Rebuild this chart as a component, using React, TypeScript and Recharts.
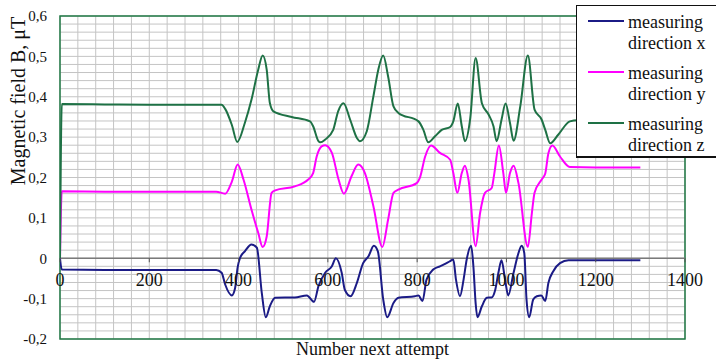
import React from "react";
import {
  LineChart,
  Line,
  XAxis,
  YAxis,
  CartesianGrid,
  ReferenceLine,
  ReferenceArea,
  Legend,
  Label,
} from "recharts";

// ---------------- data ----------------
const attemptsX = [0, 4, 100, 200, 300, 350, 362, 370, 385, 392, 398, 403, 414, 429, 441, 452, 461, 470, 482, 526, 553, 569, 579, 594, 609, 618, 631, 638, 651, 665, 679, 691, 703, 712, 724, 733, 747, 758, 795, 803, 812, 821, 836, 851, 859, 874, 881, 887, 896, 904, 911, 921, 926, 931, 935, 945, 956, 967, 975, 982, 989, 997, 1004, 1016, 1027, 1034, 1040, 1045, 1051, 1060, 1068, 1078, 1087, 1094, 1105, 1120, 1139, 1200, 1300];
const fieldX = [0, -0.028, -0.029, -0.029, -0.029, -0.029, -0.036, -0.065, -0.092, -0.075, -0.022, 0.0, 0.017, 0.034, 0.026, -0.086, -0.146, -0.119, -0.098, -0.097, -0.092, -0.108, -0.069, -0.036, -0.02, 0.0, -0.036, -0.078, -0.094, -0.061, -0.012, 0.005, 0.031, 0.017, -0.102, -0.146, -0.111, -0.098, -0.094, -0.092, -0.106, -0.053, -0.028, -0.02, -0.016, -0.007, -0.003, -0.053, -0.094, -0.053, -0.003, 0.031, -0.02, -0.111, -0.146, -0.119, -0.098, -0.097, -0.078, -0.036, -0.005, -0.053, -0.092, -0.036, 0.013, 0.031, 0.013, -0.102, -0.146, -0.102, -0.094, -0.092, -0.106, -0.061, -0.032, -0.012, -0.005, -0.005, -0.005];

const attemptsY = [0, 4, 100, 200, 300, 350, 370, 385, 398, 411, 429, 444, 454, 463, 474, 482, 526, 556, 567, 575, 586, 594, 609, 624, 636, 653, 668, 683, 702, 722, 735, 747, 758, 799, 806, 818, 831, 851, 874, 881, 890, 900, 907, 915, 931, 941, 952, 967, 973, 983, 993, 999, 1008, 1016, 1027, 1048, 1057, 1063, 1079, 1087, 1094, 1103, 1120, 1142, 1200, 1300];
const fieldY = [0, 0.166, 0.165, 0.165, 0.165, 0.165, 0.16, 0.19, 0.232, 0.195, 0.12, 0.063, 0.028, 0.054, 0.162, 0.168, 0.178, 0.195, 0.211, 0.252, 0.277, 0.28, 0.261, 0.195, 0.16, 0.203, 0.232, 0.211, 0.129, 0.028, 0.096, 0.162, 0.17, 0.186, 0.199, 0.252, 0.279, 0.261, 0.244, 0.211, 0.162, 0.211, 0.229, 0.195, 0.03, 0.112, 0.162, 0.174, 0.211, 0.279, 0.211, 0.162, 0.211, 0.229, 0.186, 0.028, 0.112, 0.162, 0.195, 0.21, 0.26, 0.279, 0.252, 0.226, 0.225, 0.225];

const attemptsZ = [0, 4, 100, 200, 300, 362, 370, 385, 397, 414, 429, 444, 454, 463, 470, 478, 519, 560, 567, 579, 583, 594, 612, 623, 635, 650, 665, 672, 687, 702, 713, 724, 735, 747, 758, 803, 814, 825, 840, 855, 874, 881, 891, 900, 907, 919, 931, 945, 960, 971, 978, 989, 998, 1008, 1016, 1031, 1048, 1063, 1079, 1087, 1098, 1116, 1142, 1160, 1200, 1300];
const fieldZ = [0, 0.382, 0.381, 0.38, 0.38, 0.38, 0.37, 0.33, 0.288, 0.335, 0.393, 0.467, 0.502, 0.467, 0.385, 0.364, 0.35, 0.339, 0.327, 0.29, 0.287, 0.294, 0.318, 0.364, 0.384, 0.343, 0.298, 0.29, 0.314, 0.401, 0.467, 0.502, 0.45, 0.376, 0.36, 0.339, 0.318, 0.287, 0.302, 0.318, 0.325, 0.339, 0.383, 0.327, 0.29, 0.347, 0.496, 0.384, 0.356, 0.327, 0.29, 0.343, 0.383, 0.335, 0.291, 0.376, 0.502, 0.368, 0.343, 0.318, 0.285, 0.306, 0.339, 0.342, 0.342, 0.342];

const seriesNames = ["measuring direction x", "measuring direction y", "measuring direction z"];
const xTicks = [0, 200, 400, 600, 800, 1000, 1200, 1400];
const yTicks = [-0.2, -0.1, 0, 0.1, 0.2, 0.3, 0.4, 0.5, 0.6];
const xGridStep = 40;
const yGridStep = 0.02;
const xTitle = "Number next attempt";
const yTitle = "Magnetic field B, \u03BCT";

// ---------------- layout / style ----------------
const W = 716;
const H = 360;
const X_MIN = 0;
const X_MAX = 1400;
const Y_MIN = -0.2;
const Y_MAX = 0.6;
const X_AXIS_H = 21;
const MARGIN = { top: 16, right: 31, bottom: 0, left: 0 };
const Y_AXIS_W = 60;
const PLOT_TOP = MARGIN.top;
const PLOT_H = H - MARGIN.top - MARGIN.bottom - X_AXIS_H;
const ZERO_Y = PLOT_TOP + (PLOT_H * Y_MAX) / (Y_MAX - Y_MIN);
const SERIF = '"Liberation Serif", "Times New Roman", serif';
const COLORS = ["#1b1b86", "#ff00ff", "#1e7145"];
const BORDER_GREEN = "#217a45";

const toRows = (xs: number[], vs: number[]) => xs.map((t, i) => ({ t, v: vs[i] }));
const dataX = toRows(attemptsX, fieldX);
const dataY = toRows(attemptsY, fieldY);
const dataZ = toRows(attemptsZ, fieldZ);

const gridXValues: number[] = [];
for (let v = X_MIN; v <= X_MAX + 1e-9; v += xGridStep) gridXValues.push(v);
const gridYValues: number[] = [];
for (let k = 0; k <= Math.round((Y_MAX - Y_MIN) / yGridStep); k++)
  gridYValues.push(Y_MIN + k * yGridStep);

const applyScale = (axis: any, v: number, fallback: number) => {
  const s = axis && axis.scale;
  if (typeof s === "function") return s(v);
  if (s && typeof s.map === "function") return s.map(v);
  return fallback;
};

const fmtY = (v: number) => (Math.abs(v) < 1e-9 ? "0" : v.toFixed(1).replace(".", ","));

function XTick(props: any) {
  const { x, payload } = props;
  return (
    <g>
      <line x1={x} x2={x} y1={ZERO_Y} y2={ZERO_Y + 4} stroke="#555" strokeWidth={1} />
      <text
        x={x}
        y={ZERO_Y + 28}
        textAnchor="middle"
        fontSize={18}
        fontFamily={SERIF}
        fill="#111"
      >
        {payload.value}
      </text>
    </g>
  );
}

function LegendBox(props: any) {
  const payload = props.payload || [];
  return (
    <div
      style={{
        position: "relative",
        width: 140,
        height: 153,
        boxSizing: "border-box",
        background: "#fff",
        borderLeft: "1px solid #111",
        borderTop: "1px solid #111",
        borderBottom: "2px solid #111",
        fontFamily: SERIF,
        color: "#111",
      }}
    >
      {payload.map((p: any, i: number) => {
        const words = String(p.value).split(" ");
        return (
          <div key={i}>
            <div
              style={{
                position: "absolute",
                left: 11,
                top: 14 + i * 51,
                width: 36,
                height: 2,
                background: p.color,
              }}
            />
            <div
              style={{
                position: "absolute",
                left: 51,
                top: 5.5 + i * 51,
                fontSize: 18,
                lineHeight: "21px",
                whiteSpace: "nowrap",
              }}
            >
              {words[0]}
              <br />
              {words.slice(1).join(" ")}
            </div>
          </div>
        );
      })}
    </div>
  );
}

export default function App() {
  return (
    <div style={{ position: "absolute", left: 0, top: 0, width: W, height: H, background: "#fff" }}>
      <LineChart width={W} height={H} margin={MARGIN}>
        <CartesianGrid
          stroke="#c4c4c4"
          strokeWidth={1}
          verticalCoordinatesGenerator={({ xAxis, offset }: any) =>
            gridXValues.map((v) =>
              applyScale(xAxis, v, offset.left + ((v - X_MIN) / (X_MAX - X_MIN)) * offset.width)
            )
          }
          horizontalCoordinatesGenerator={({ yAxis, offset }: any) =>
            gridYValues.map((v) =>
              applyScale(yAxis, v, offset.top + ((Y_MAX - v) / (Y_MAX - Y_MIN)) * offset.height)
            )
          }
        />
        <XAxis
          type="number"
          dataKey="t"
          domain={[X_MIN, X_MAX]}
          ticks={xTicks}
          interval={0}
          allowDataOverflow
          axisLine={false}
          tickLine={false}
          height={X_AXIS_H}
          tick={<XTick />}
        >
          <Label
            content={(p: any) => {
              const vb = p.viewBox || { x: 60, y: 339, width: 625, height: 21 };
              return (
                <text
                  x={vb.x + vb.width / 2}
                  y={vb.y + 16}
                  textAnchor="middle"
                  fontSize={18}
                  fontFamily={SERIF}
                  fill="#111"
                >
                  {xTitle}
                </text>
              );
            }}
          />
        </XAxis>
        <YAxis
          type="number"
          domain={[Y_MIN, Y_MAX]}
          ticks={yTicks}
          interval={0}
          allowDataOverflow
          width={Y_AXIS_W}
          axisLine={false}
          tickLine={false}
          tickSize={0}
          tickMargin={13}
          tickFormatter={fmtY}
          tick={{ fontSize: 15, fontFamily: SERIF, fill: "#111" }}
        >
          <Label
            content={() => (
              <text
                x={25}
                y={101}
                transform="rotate(-90 25 101)"
                textAnchor="middle"
                fontSize={20}
                fontFamily={SERIF}
                fill="#111"
              >
                {yTitle}
              </text>
            )}
          />
        </YAxis>
        <ReferenceLine y={0} stroke="#7a7a7a" strokeWidth={1.5} />
        <ReferenceArea
          x1={X_MIN}
          x2={X_MAX}
          y1={Y_MIN}
          y2={Y_MAX}
          fill="none"
          fillOpacity={0}
          stroke={BORDER_GREEN}
          strokeWidth={1.5}
          strokeOpacity={1}
        />
        <Line
          data={dataX}
          dataKey="v"
          name={seriesNames[0]}
          type="monotone"
          stroke={COLORS[0]}
          strokeWidth={2}
          dot={false}
          isAnimationActive={false}
        />
        <Line
          data={dataY}
          dataKey="v"
          name={seriesNames[1]}
          type="monotone"
          stroke={COLORS[1]}
          strokeWidth={2}
          dot={false}
          isAnimationActive={false}
        />
        <Line
          data={dataZ}
          dataKey="v"
          name={seriesNames[2]}
          type="monotone"
          stroke={COLORS[2]}
          strokeWidth={2}
          dot={false}
          isAnimationActive={false}
        />
        <Legend
          layout="horizontal"
          verticalAlign="middle"
          align="center"
          wrapperStyle={{ left: 576, top: 5, width: 140, height: 153, margin: 0 }}
          content={<LegendBox />}
        />
      </LineChart>
    </div>
  );
}
